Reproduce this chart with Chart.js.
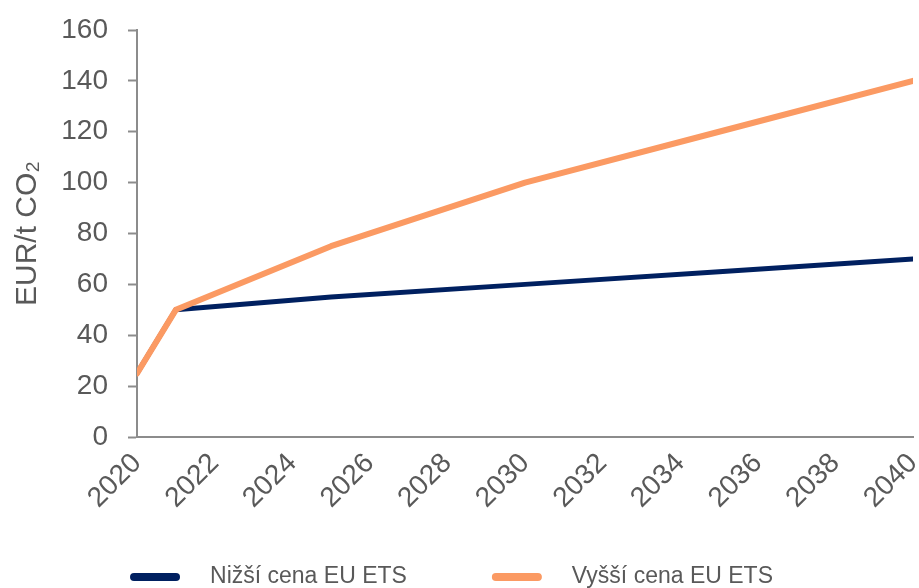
<!DOCTYPE html>
<html>
<head>
<meta charset="utf-8">
<script src="https://cdn.jsdelivr.net/npm/chart.js@4/dist/chart.umd.min.js"></script>
<style>
  html, body { margin: 0; padding: 0; background: #fff; }
  #wrap { width: 919px; height: 588px; }
</style>
</head>
<body>
<div id="wrap"><canvas id="chart"></canvas></div>
<script>
  // Roky a ceny povolenek (EUR/t CO2)
  const lowYears = [2020, 2021, 2025, 2030, 2035, 2040];
  const lowPrices = [25, 50, 55, 60, 65, 70];
  const highYears = [2020, 2021, 2025, 2030, 2035, 2040];
  const highPrices = [25, 50, 75, 100, 120, 140];
  const seriesLabels = ['Nižší cena EU ETS', 'Vyšší cena EU ETS'];

  const COLOR_NAVY = '#002060';
  const COLOR_ORANGE = '#fb9a63';
  const COLOR_TEXT = '#595959';
  const COLOR_AXIS = '#8c8c8c';
  const FONT = "'Liberation Sans', Arial, sans-serif";

  const toPoints = (xs, ys) => xs.map((x, i) => ({ x: x, y: ys[i] }));

  // Legenda pod grafem: krátká zaoblená čára + popisek
  const bottomLegend = {
    id: 'bottomLegend',
    afterDraw(chart) {
      const ctx = chart.ctx;
      ctx.save();
      ctx.font = '23px ' + FONT;
      const swatch = 50, textGap = 30, itemGap = 85;
      const items = chart.data.datasets.map(d => ({
        label: d.label,
        color: d.borderColor,
        w: swatch + textGap + ctx.measureText(d.label).width
      }));
      const total = items.reduce((s, it) => s + it.w, 0) + itemGap * (items.length - 1);
      let x = (chart.width - total) / 2 - 8;
      const y = 577;
      items.forEach(it => {
        ctx.strokeStyle = it.color;
        ctx.lineWidth = 8;
        ctx.lineCap = 'round';
        ctx.beginPath();
        ctx.moveTo(x + 4, y);
        ctx.lineTo(x + swatch - 4, y);
        ctx.stroke();
        ctx.fillStyle = COLOR_TEXT;
        ctx.textBaseline = 'middle';
        ctx.fillText(it.label, x + swatch + textGap, y);
        x += it.w + itemGap;
      });
      ctx.restore();
    }
  };

  new Chart(document.getElementById('chart'), {
    type: 'line',
    data: {
      datasets: [
        {
          label: seriesLabels[0],
          data: toPoints(lowYears, lowPrices),
          borderColor: COLOR_NAVY,
          backgroundColor: COLOR_NAVY,
          borderWidth: 5,
          pointRadius: 0,
          tension: 0,
          borderCapStyle: 'round',
          borderJoinStyle: 'round',
          order: 2
        },
        {
          label: seriesLabels[1],
          data: toPoints(highYears, highPrices),
          borderColor: COLOR_ORANGE,
          backgroundColor: COLOR_ORANGE,
          borderWidth: 6,
          pointRadius: 0,
          tension: 0,
          borderCapStyle: 'round',
          borderJoinStyle: 'round',
          order: 1
        }
      ]
    },
    options: {
      responsive: true,
      maintainAspectRatio: false,
      animation: false,
      layout: { padding: { left: 0, right: 6, top: 30, bottom: 0 } },
      plugins: {
        legend: { display: false },
        tooltip: { enabled: false }
      },
      scales: {
        x: {
          type: 'linear',
          min: 2020,
          max: 2040,
          afterFit(scale) {
            scale.height = 151;
            // rotated labels end at the tick, no extra room needed at the sides
            scale.paddingRight = 0;
            scale.paddingLeft = 0;
          },
          border: { display: true, color: COLOR_AXIS, width: 2 },
          grid: { drawOnChartArea: false, drawTicks: false },
          ticks: {
            stepSize: 2,
            autoSkip: false,
            minRotation: 45,
            maxRotation: 45,
            padding: 10,
            color: COLOR_TEXT,
            font: { size: 28, family: FONT },
            callback: v => String(v)
          }
        },
        y: {
          min: 0,
          max: 160,
          afterFit(scale) {
            scale.width = 137;
            scale.paddingTop = 0;
            scale.paddingBottom = 0;
          },
          border: { display: true, color: COLOR_AXIS, width: 2 },
          grid: {
            drawOnChartArea: false,
            drawTicks: true,
            tickLength: 9,
            tickColor: COLOR_AXIS,
            tickWidth: 2
          },
          ticks: {
            stepSize: 20,
            padding: 20,
            color: COLOR_TEXT,
            font: { size: 28, family: FONT }
          },
          title: {
            display: true,
            text: 'EUR/t CO₂',
            color: COLOR_TEXT,
            font: { size: 30, family: FONT },
            padding: { top: 10, bottom: 0 }
          }
        }
      }
    },
    plugins: [bottomLegend]
  });
</script>
</body>
</html>
